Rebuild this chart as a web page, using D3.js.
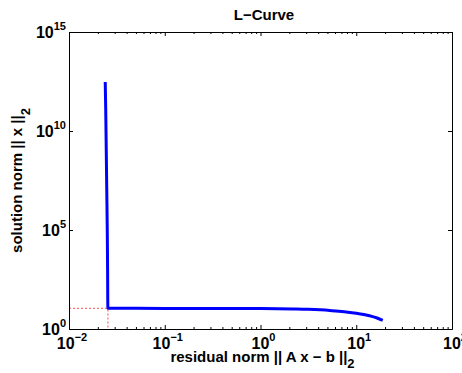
<!DOCTYPE html>
<html>
<head>
<meta charset="utf-8">
<script src="https://cdn.jsdelivr.net/npm/d3@7/dist/d3.min.js"></script>
<style>
html,body{margin:0;padding:0;background:#fff;}
svg{display:block;font-family:"Liberation Sans",Arial,Helvetica,sans-serif;font-weight:bold;}
</style>
</head>
<body>
<svg id="chart" width="462" height="373"></svg>
<script>
// Data
const residualNorm = [0.0239, 0.0242, 0.0245, 0.0248, 0.0251, 0.0253, 0.0254, 0.0255, 0.1, 0.5, 1, 1.5, 2.2, 3.16, 4.2, 5.6, 7.5, 10, 12, 14.1, 16.5, 18.9];
const solutionNorm = [3e12, 1e11, 1e9, 1e7, 1e5, 1e3, 30, 11.1, 11.0, 10.9, 10.8, 10.6, 10.3, 9.9, 9.3, 8.4, 7.4, 6.3, 5.4, 4.5, 3.6, 2.75];
const corner = {rho: 0.0255, eta: 11.1};
const xTickExps = [-2, -1, 0, 1, 2];
const yTickExps = [0, 5, 10, 15];
const titleText = "L\u2212Curve";
const xLabelText = "residual norm || A x \u2212 b ||";
const yLabelText = "solution norm || x ||";

const svg = d3.select("#chart");
const L = 69, R = 452, T = 32, B = 329;
const x = d3.scaleLog().domain([1e-2, 1e2]).range([L, R]);
const y = d3.scaleLog().domain([1, 1e15]).range([B, T]);

// corner dotted lines
svg.append("path")
  .attr("d", `M${x(1e-2)},${y(corner.eta)}H${x(corner.rho)}V${y(1)}`)
  .attr("fill", "none").attr("stroke", "#ff7070").attr("stroke-width", 1.3)
  .attr("stroke-dasharray", "2,2");

// curve
const pts = residualNorm.map((r, i) => [r, solutionNorm[i]]);
svg.append("path")
  .datum(pts)
  .attr("d", d3.line().x(d => x(d[0])).y(d => y(d[1])).curve(d3.curveMonotoneX))
  .attr("fill", "none").attr("stroke", "#0000ff").attr("stroke-width", 3)
  .attr("stroke-linejoin", "miter");

// axes with inward ticks
const xMinor = [];
for (let e = -2; e < 2; e++) for (let k = 2; k <= 9; k++) xMinor.push(k * Math.pow(10, e));
const xMajor = xTickExps.map(e => Math.pow(10, e));
const yMajor = yTickExps.map(e => Math.pow(10, e));

const axisBottom = d3.axisBottom(x).tickValues(xMajor).tickSizeInner(-4).tickSizeOuter(0).tickFormat("");
const axisTop = d3.axisTop(x).tickValues(xMajor).tickSizeInner(-4).tickSizeOuter(0).tickFormat("");
const minorBottom = d3.axisBottom(x).tickValues(xMinor).tickSizeInner(-2).tickSizeOuter(0).tickFormat("");
const minorTop = d3.axisTop(x).tickValues(xMinor).tickSizeInner(-2).tickSizeOuter(0).tickFormat("");
const axisLeft = d3.axisLeft(y).tickValues(yMajor).tickSizeInner(-4).tickSizeOuter(0).tickFormat("");
const axisRight = d3.axisRight(y).tickValues(yMajor).tickSizeInner(-4).tickSizeOuter(0).tickFormat("");

function styleAxis(g){ g.selectAll("path,line").attr("stroke","#000").attr("stroke-width",1); }
svg.append("g").attr("transform",`translate(0,${B})`).call(axisBottom).call(styleAxis);
svg.append("g").attr("transform",`translate(0,${B})`).call(minorBottom).call(styleAxis);
svg.append("g").attr("transform",`translate(0,${T})`).call(axisTop).call(styleAxis);
svg.append("g").attr("transform",`translate(0,${T})`).call(minorTop).call(styleAxis);
svg.append("g").attr("transform",`translate(${L},0)`).call(axisLeft).call(styleAxis);
svg.append("g").attr("transform",`translate(${R},0)`).call(axisRight).call(styleAxis);

// tick labels
function powLabel(sel, e){
  sel.append("tspan").text("10");
  sel.append("tspan").attr("font-size", 11).attr("dy", -8).text(e < 0 ? "\u2212" + (-e) : String(e));
}
xTickExps.forEach(e => {
  const t = svg.append("text").attr("x", x(Math.pow(10, e)) + 3).attr("y", B + 20)
    .attr("text-anchor", "middle").attr("font-size", 16).attr("fill", "#000");
  powLabel(t, e);
});
yTickExps.forEach(e => {
  const t = svg.append("text").attr("x", L - 3).attr("y", y(Math.pow(10, e)) + 6)
    .attr("text-anchor", "end").attr("font-size", 16).attr("fill", "#000");
  powLabel(t, e);
});

// title
svg.append("text").attr("x", 264).attr("y", 20).attr("text-anchor", "middle")
  .attr("font-size", 15).attr("fill", "#000").text(titleText);

// x label
const xl = svg.append("text").attr("x", (L + R) / 2 + 2).attr("y", 362).attr("text-anchor", "middle")
  .attr("font-size", 15).attr("fill", "#000");
xl.append("tspan").text(xLabelText);
xl.append("tspan").attr("dy", 6).attr("font-size", 13).text("2");

// y label
const yl = svg.append("text").attr("transform", `translate(22,${(T + B) / 2}) rotate(-90)`)
  .attr("text-anchor", "middle").attr("font-size", 15).attr("fill", "#000");
yl.append("tspan").text(yLabelText);
yl.append("tspan").attr("dy", 8).attr("font-size", 13).text("2");
</script>
</body>
</html>
